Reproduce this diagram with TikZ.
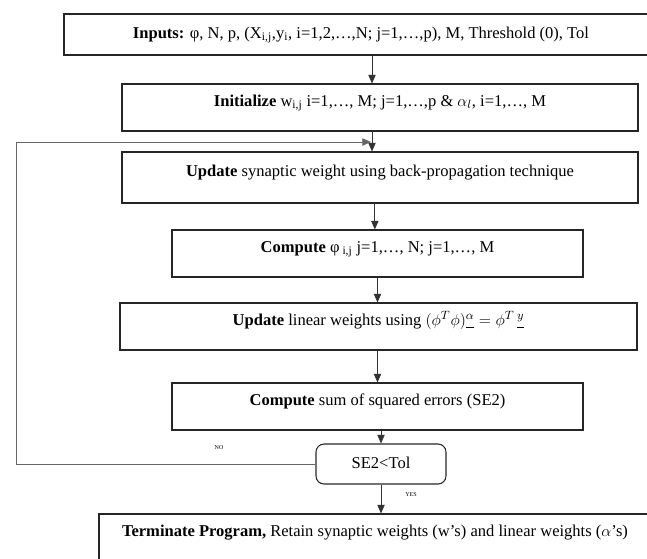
\documentclass[tikz,border=0pt]{standalone}
\usepackage{fontspec}
\setmainfont{Liberation Serif}
\usetikzlibrary{arrows.meta}

\begin{document}
\begin{tikzpicture}[x=0.75pt, y=-0.75pt,
		procbox/.style={draw=black!85, line width=0.8pt, inner sep=0pt, minimum height=35.25pt, text height=8.5pt, text depth=10.5pt, font=\fontsize{12.4}{14}\selectfont},
		arr/.style={draw=black!80, line width=0.6pt, -{Triangle[length=6.5pt,width=5.5pt]}},
		loopline/.style={draw=black!60, line width=0.5pt},
		tag/.style={font=\fontsize{4.5}{5}\selectfont, inner sep=0pt}]
		%%%%% START %%%%%
		
		\useasboundingbox (0,0) rectangle (647,558);
		
		% boxes
		\node[procbox, minimum width=445.5pt, minimum height=30.75pt, text height=8.5pt, text depth=3pt] (inp) at (361,34.5) {\textbf{Inputs:} φ, N, p, (X\textsubscript{i,j},y\textsubscript{i}, i=1,2,\dots,N; j=1,\dots,p), M, Threshold (0), Tol};
		\node[procbox, minimum width=387pt] (init) at (380,107.5) {\textbf{Initialize} w\textsubscript{i,j} i=1,\dots, M; j=1,\dots,p \& $\alpha_l$, i=1,\dots, M};
		\node[procbox, minimum width=387pt, minimum height=38.25pt] (upd) at (380,177.5) {\textbf{Update} synaptic weight using back-propagation technique};
		\node[procbox, minimum width=308.25pt] (comp) at (377.5,253.5) {\textbf{Compute} φ\textsubscript{ i,j} j=1,\dots, N; j=1,\dots, M};
		\node[procbox, minimum width=387.75pt] (lin) at (378.5,326.5) {\textbf{Update} linear weights using $(\phi^{T}\phi)\underline{^{\alpha}} = \phi^{T}\,\underline{^{y}}$};
		\node[procbox, minimum width=308.25pt] (sse) at (377.5,406.5) {\textbf{Compute} sum of squared errors (SE2)};
		\node[procbox, rounded corners=6pt, minimum width=97.5pt, minimum height=30pt, text height=8.5pt, text depth=2pt] (test) at (381,464) {SE2<Tol};
		\node[procbox, minimum width=414pt] (term) at (375,537.5) {\textbf{Terminate Program,} Retain synaptic weights (w’s) and linear weights ($\alpha$’s)};
		
		% flow
		\draw[arr] ([xshift=-6pt]init.north |- inp.south) -- ([xshift=-6pt]init.north);
		\draw[arr] ([xshift=-6pt]upd.north |- init.south) -- ([xshift=-6pt]upd.north);
		\draw[arr] ([xshift=-2pt]comp.north |- upd.south) -- ([xshift=-2pt]comp.north);
		\draw[arr] (comp.south) -- (comp.south |- lin.north);
		\draw[arr] (sse.north |- lin.south) -- (sse.north);
		\draw[arr] (test.north |- sse.south) -- (test.north);
		\draw[arr] (test.south) -- (test.south |- term.north);
		
		% back loop
		\coordinate (bend) at (16,142);
		\coordinate (join) at (371,142);
		\draw[loopline, -{Triangle[length=6.5pt,width=5.5pt]}] (test.west) -| (bend) -- (join);
		
		\node[tag] (no) at (219,448) {NO};
		\node[tag] (yes) at (411,495) {YES};
		
		%%%%% END %%%%%
	\end{tikzpicture}
\end{document}
